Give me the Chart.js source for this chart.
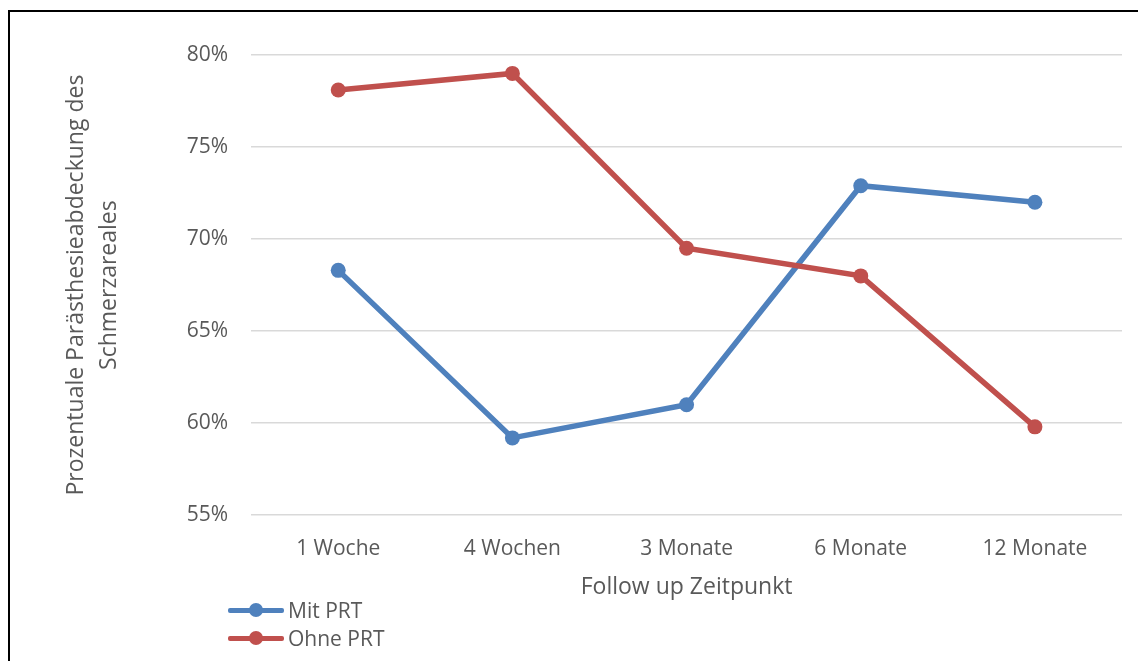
<!DOCTYPE html>
<html>
<head>
<meta charset="utf-8">
<script src="https://cdn.jsdelivr.net/npm/chart.js@4"></script>
<style>
  html, body { margin: 0; padding: 0; background: #fff; }
  body { width: 1138px; height: 661px; position: relative; overflow: hidden; font-family: "Open Sans", sans-serif; }
  #frame { position: absolute; left: 8px; top: 10px; width: 1160px; height: 700px; border: 2px solid #000; box-sizing: border-box; pointer-events: none; }
  #chart { position: absolute; left: 0; top: 0; }
  .legend { position: absolute; left: 228px; top: 596px; color: #595959; font-size: 21px; }
  .legend-row { display: flex; align-items: center; height: 28px; }
  .legend-mark { position: relative; width: 56px; height: 14px; margin-right: 4px; }
  .legend-mark .ln { position: absolute; left: 0; right: 0; top: 4.5px; height: 5px; border-radius: 2px; }
  .legend-mark .dot { position: absolute; left: 21px; top: 0; width: 14px; height: 14px; border-radius: 50%; }
</style>
</head>
<body>
<canvas id="chart" width="1138" height="661"></canvas>
<div class="legend" id="legend"></div>
<div id="frame"></div>
<script>
// Prozentuale Parästhesieabdeckung je Follow-up Zeitpunkt
const categories = ["1 Woche", "4 Wochen", "3 Monate", "6 Monate", "12 Monate"];
const mitPRT = [68.3, 59.2, 61.0, 72.9, 72.0];
const ohnePRT = [78.1, 79.0, 69.5, 68.0, 59.8];
const yTicks = [55, 60, 65, 70, 75, 80];

const BLUE = "#4f81bd";
const RED = "#c0504d";
const TEXT = "#595959";

Chart.defaults.font.family = "'Open Sans', sans-serif";
Chart.defaults.color = TEXT;

const series = [
  { label: "Mit PRT", data: mitPRT, color: BLUE, order: 1 },
  { label: "Ohne PRT", data: ohnePRT, color: RED, order: 0 }
];

new Chart(document.getElementById("chart"), {
  type: "line",
  data: {
    labels: categories,
    datasets: series.map(s => ({
      label: s.label,
      data: s.data,
      order: s.order,
      borderColor: s.color,
      backgroundColor: s.color,
      borderWidth: 5.5,
      pointRadius: 7.5,
      pointBorderWidth: 0,
      pointBackgroundColor: s.color,
      tension: 0,
      fill: false
    }))
  },
  options: {
    responsive: false,
    animation: false,
    devicePixelRatio: 1,
    layout: { padding: { left: 58, right: 16, top: 55, bottom: 60 } },
    plugins: {
      legend: { display: false },
      tooltip: { enabled: false }
    },
    scales: {
      x: {
        offset: true,
        grid: { display: false, drawTicks: false },
        border: { display: false },
        ticks: { font: { size: 21 }, color: TEXT, padding: 21 },
        title: {
          display: true,
          text: "Follow up Zeitpunkt",
          font: { size: 23 },
          color: TEXT,
          padding: { top: -9, bottom: 0 }
        }
      },
      y: {
        min: 55,
        max: 80,
        afterBuildTicks: scale => { scale.ticks = yTicks.map(v => ({ value: v })); },
        grid: { color: "#d9d9d9", lineWidth: 1.5, drawTicks: false },
        border: { display: false },
        ticks: {
          font: { size: 21 },
          color: TEXT,
          padding: 23,
          callback: v => v + "%"
        },
        title: {
          display: true,
          text: ["Prozentuale Parästhesieabdeckung des", "Schmerzareales"],
          font: { size: 23, lineHeight: 1.43 },
          color: TEXT,
          padding: { top: 2, bottom: 38 }
        }
      }
    }
  }
});

// legend below the chart, Excel style (line with marker)
const legendEl = document.getElementById("legend");
legendEl.innerHTML = series.map(s =>
  `<div class="legend-row">
    <span class="legend-mark"><span class="ln" style="background:${s.color}"></span><span class="dot" style="background:${s.color}"></span></span>
    <span>${s.label}</span>
  </div>`
).join("");
</script>
</body>
</html>
